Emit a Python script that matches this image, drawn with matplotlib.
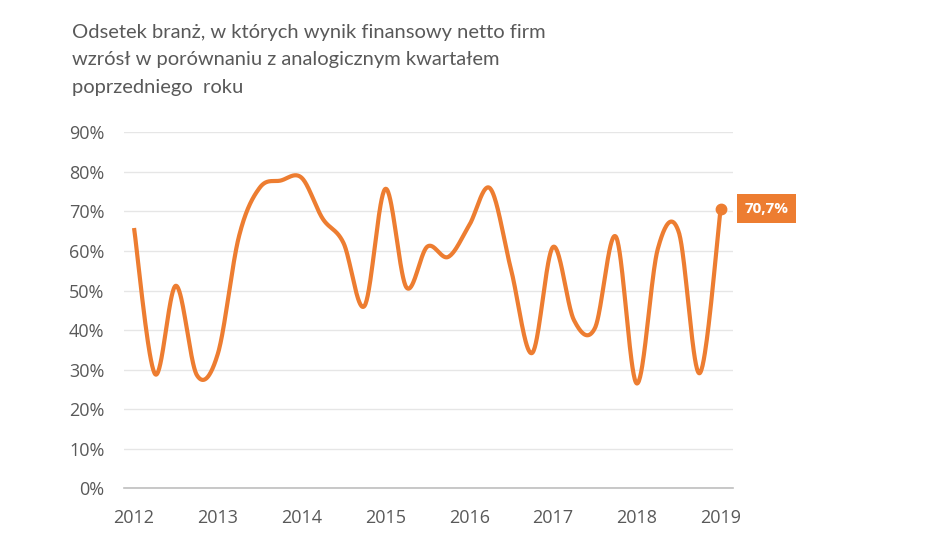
import numpy as np
import matplotlib
matplotlib.use("Agg")
import matplotlib.pyplot as plt
from matplotlib.ticker import FuncFormatter

# ---- data ----
years = [2012, 2013, 2014, 2015, 2016, 2017, 2018, 2019]
quarters_per_year = 4
values = [
    65.8, 28.9, 51.2, 28.6,   # 2012
    34.0, 63.5, 76.0, 77.8,   # 2013
    78.5, 68.2, 62.0, 46.1,   # 2014
    75.7, 50.8, 61.1, 58.5,   # 2015
    66.5, 75.8, 55.2, 34.2,   # 2016
    61.0, 42.5, 40.5, 63.6,   # 2017
    26.5, 60.5, 64.8, 29.1,   # 2018
    70.7,                     # 2019
]
last_label = "70,7%"
title = ("Odsetek branż, w których wynik finansowy netto firm\n"
         "wzrósł w porównaniu z analogicznym kwartałem\n"
         "poprzedniego  roku")
y_ticks = [0, 10, 20, 30, 40, 50, 60, 70, 80, 90]

# ---- smoothing (Catmull-Rom / Bezier like Excel smoothed line) ----
x = np.array([years[0] + i / quarters_per_year for i in range(len(values))])
y = np.array(values, dtype=float)

def smooth(xp, yp, n=40):
    pts = np.column_stack([xp, yp])
    P = np.vstack([pts[0], pts, pts[-1]])
    out = []
    t = np.linspace(0, 1, n)
    for i in range(1, len(P) - 2):
        p0, p1, p2, p3 = P[i - 1], P[i], P[i + 1], P[i + 2]
        c1 = p1 + (p2 - p0) / 6.0
        c2 = p2 - (p3 - p1) / 6.0
        seg = ((1 - t)[:, None] ** 3 * p1 + 3 * ((1 - t) ** 2 * t)[:, None] * c1
               + 3 * ((1 - t) * t ** 2)[:, None] * c2 + (t ** 3)[:, None] * p2)
        out.append(seg if i == 1 else seg[1:])
    s = np.vstack(out)
    return s[:, 0], s[:, 1]

sx, sy = smooth(x, y)

orange = "#ED7D31"
grey_text = "#595959"

fig = plt.figure(figsize=(9.45, 5.53), dpi=100)
ax = fig.add_axes([0.1312, 0.117, 0.6444, 0.6438])

ax.plot(sx, sy, color=orange, lw=3.0, solid_capstyle="butt", zorder=3)
ax.plot([x[-1]], [y[-1]], "o", color=orange, ms=7.5, zorder=4)

ax.set_xlim(years[0] - 0.12, years[-1] + 0.147)
ax.set_ylim(0, 90)
ax.set_yticks(y_ticks)
ax.yaxis.set_major_formatter(FuncFormatter(lambda v, p: f"{int(v)}%"))
ax.set_xticks(years)
ax.set_xticklabels([str(v) for v in years])

ax.grid(axis="y", color="#E6E6E6", lw=1.0)
ax.set_axisbelow(True)
for s in ["top", "right", "left"]:
    ax.spines[s].set_visible(False)
ax.spines["bottom"].set_color("#BFBFBF")
ax.spines["bottom"].set_linewidth(1.2)
ax.tick_params(axis="both", length=0, labelsize=13, labelcolor=grey_text,
               labelfontfamily="Open Sans")
ax.tick_params(axis="y", pad=14)
ax.tick_params(axis="x", pad=15)

ax.annotate(last_label, xy=(x[-1], y[-1]), xytext=(17, 0),
            textcoords="offset points", ha="left", va="center",
            fontsize=11, fontweight="bold", color="white", family="Open Sans",
            bbox=dict(boxstyle="square,pad=0.5", fc=orange, ec="none"),
            annotation_clip=False)

fig.text(72 / 945, 1 - 24 / 553, title, ha="left", va="top", fontsize=14.5,
         color=grey_text, family="Lato", linespacing=1.75)

fig.savefig("out.png", dpi=100)
